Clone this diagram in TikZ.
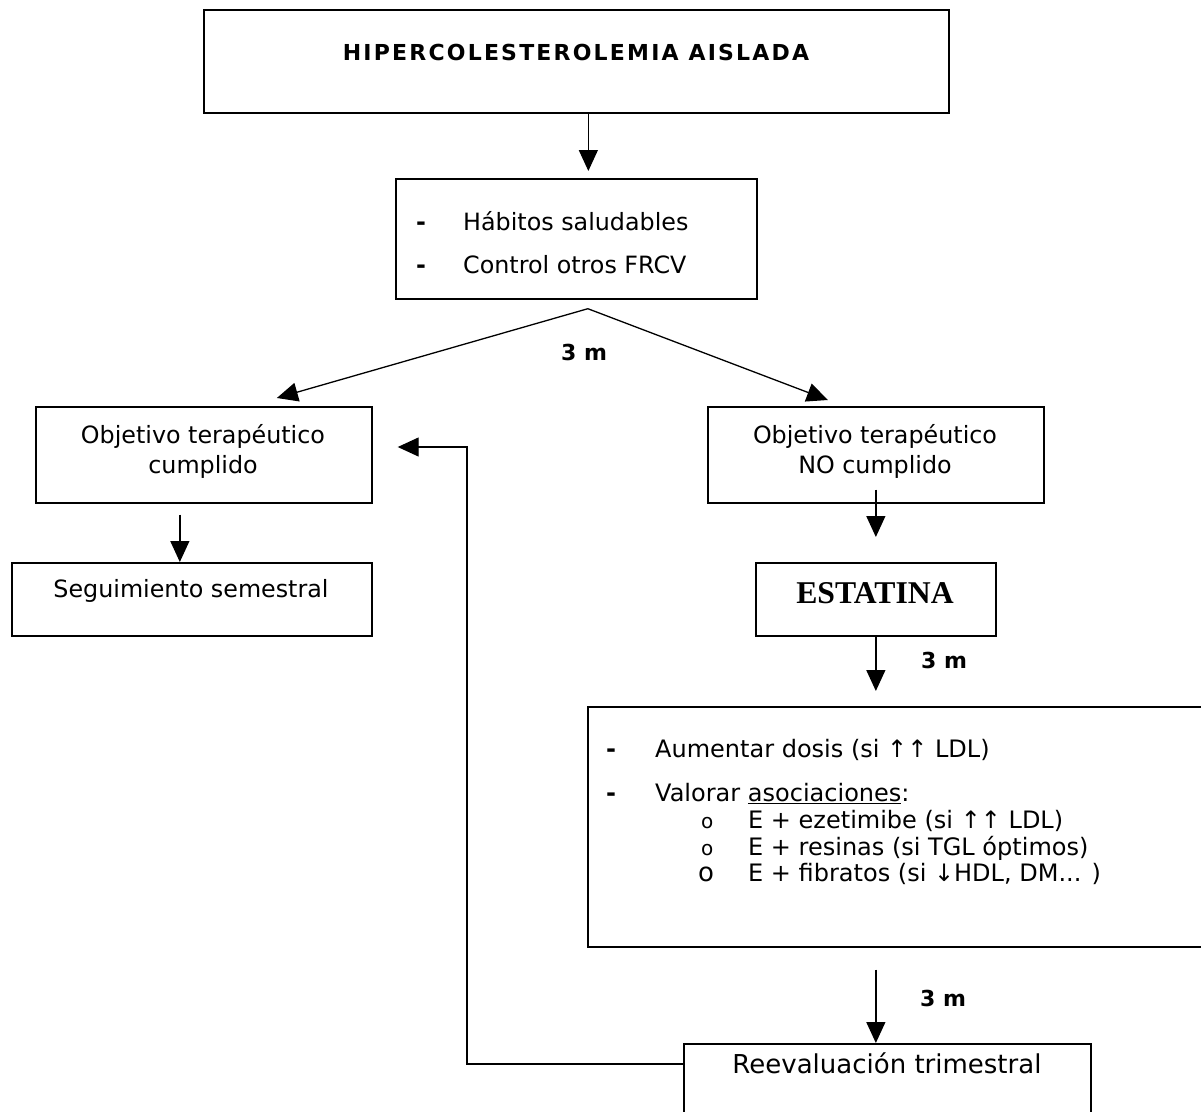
\documentclass[tikz,border=0pt]{standalone}
\usepackage{fontspec}
\setmainfont{DejaVu Sans}
\newfontfamily\serifest{Liberation Serif}
\usetikzlibrary{arrows.meta, positioning}

\begin{document}
\begin{tikzpicture}[x=1pt, y=-1pt, >={Triangle[length=21pt,width=19pt]},
    caja/.style={draw, line width=1.7pt, anchor=north west, inner sep=0pt},
    flecha/.style={->, line width=1.3pt},
    txt/.style={inner sep=0pt, font=\fontsize{23.8}{30}\selectfont},
    lista/.style={inner sep=0pt, anchor=base west, font=\fontsize{24}{28}\selectfont},
    tres/.style={inner sep=0pt, anchor=base, font=\fontsize{22}{26}\selectfont\bfseries}]
    \clip (0,0) rectangle (1201,1111);
    \fill[white] (0,0) rectangle (1201,1111);
    % cajas
    \node[caja, minimum width=745pt, minimum height=103pt] (hiper) at (203,9) {};
    \node[caja, minimum width=361pt, minimum height=120pt] (habitos) at (395,178) {};
    \node[caja, minimum width=336pt, minimum height=96pt] (si) at (35,406) {};
    \node[caja, minimum width=336pt, minimum height=96pt] (no) at (707,406) {};
    \node[caja, minimum width=360pt, minimum height=73pt] (semestral) at (11,562) {};
    \node[caja, minimum width=240pt, minimum height=73pt] (estatina) at (755,562) {};
    \node[caja, minimum width=650pt, minimum height=240pt] (asoc) at (587,706) {};
    \node[caja, minimum width=407pt, minimum height=100pt] (reeval) at (683,1043) {};
    % textos
    \node[txt, anchor=base, font=\fontsize{22}{26}\selectfont\bfseries\addfontfeature{LetterSpace=10}] (hipertxt) at (576,60) {HIPERCOLESTEROLEMIA AISLADA};
    \node[txt, anchor=base west] (guion1) at (416,230) {\textbf{-}};
    \node[txt, anchor=base west] (habtxt) at (463,230) {Hábitos saludables};
    \node[txt, anchor=base west] (guion2) at (416,273) {\textbf{-}};
    \node[txt, anchor=base west] (frcvtxt) at (463,273) {Control otros FRCV};
    \node[txt, align=center] (sitxt) at (203,451) {Objetivo terapéutico\\cumplido};
    \node[txt, align=center] (notxt) at (875,451) {Objetivo terapéutico\\NO cumplido};
    \node[txt, anchor=base] (semtxt) at (191,597) {Seguimiento semestral};
    \node[inner sep=0pt, anchor=base, font=\serifest\bfseries\fontsize{31.7}{36}\selectfont] (esttxt) at (875,603) {ESTATINA};
    \node[lista] (guion3) at (606,757) {\textbf{-}};
    \node[lista] (dosis) at (655,757) {Aumentar dosis (si ↑↑ LDL)};
    \node[lista] (guion4) at (606,801) {\textbf{-}};
    \node[lista] (valorar) at (655,801) {Valorar \underline{asociaciones}:};
    \node[lista, font=\fontsize{20}{22}\selectfont] (o1) at (701,828) {o};
    \node[lista] (eze) at (748,828) {E + ezetimibe (si ↑↑ LDL)};
    \node[lista, font=\fontsize{20}{22}\selectfont] (o2) at (701,855) {o};
    \node[lista] (resinas) at (748,855) {E + resinas (si TGL óptimos)};
    \node[lista, font=\fontsize{26}{28}\selectfont] (o3) at (698,881) {o};
    \node[lista] (fibratos) at (748,881) {E + fibratos (si ↓HDL, DM... )};
    \node[txt, anchor=base, font=\fontsize{26}{30}\selectfont] (reevtxt) at (887,1073) {Reevaluación trimestral};
    \node[tres] (m1) at (584,360) {3 m};
    \node[tres] (m2) at (944,668) {3 m};
    \node[tres] (m3) at (943,1006) {3 m};
    % flechas
    \draw[flecha, shorten >=7pt] ([xshift=12pt]hiper.south) -- ([xshift=12pt]hiper.south |- habitos.north);
    \coordinate (rama) at ([xshift=11.5pt,yshift=-9pt]habitos.south);
    \draw[flecha] (rama) -- ([xshift=73pt,yshift=8pt]si.north);
    \draw[flecha] (rama) -- ([xshift=-48pt,yshift=6pt]no.north);
    \draw[flecha] ([xshift=-24pt,yshift=-11pt]si.south) -- ([xshift=-24pt]si.south |- semestral.north);
    \draw[flecha] ([yshift=14pt]no.south) -- ([yshift=25pt]estatina.north);
    \draw[flecha, shorten >=15pt] (estatina.south) -- (estatina.south |- asoc.north);
    \draw[flecha, shorten <=22pt] (estatina.south |- asoc.south) -- (estatina.south |- reeval.north);
    \coordinate (vuelta) at (467,447);
    \draw[flecha] ([yshift=-21pt]reeval.north west) -| (vuelta) -- ([xshift=25pt]si.east |- vuelta);
\end{tikzpicture}
\end{document}
